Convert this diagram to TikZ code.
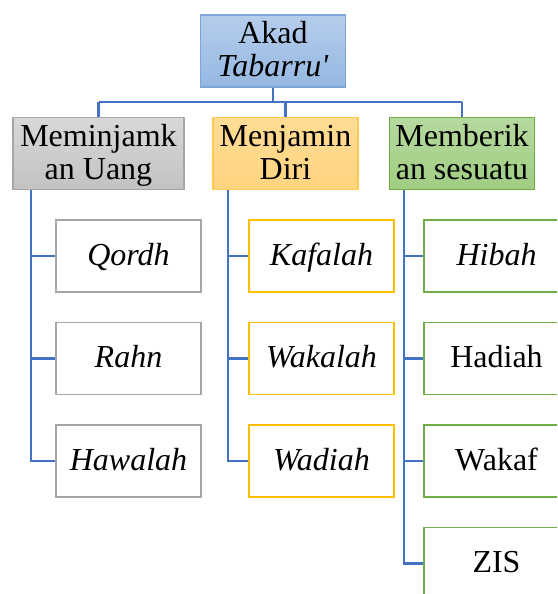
\documentclass[tikz,border=0pt]{standalone}
\usepackage{fontspec}
\setmainfont{Liberation Serif}[Ligatures=TeXOff]
\definecolor{linkblue}{HTML}{4472C4}
\definecolor{topborder}{HTML}{7DA5D8}
\definecolor{toptop}{HTML}{B5CDEC}
\definecolor{topbot}{HTML}{95B8E2}
\definecolor{grayborder}{HTML}{A6A6A6}
\definecolor{graytop}{HTML}{D8D8D8}
\definecolor{graybot}{HTML}{C2C2C2}
\definecolor{goldborder}{HTML}{FFC000}
\definecolor{goldedge}{HTML}{FFC850}
\definecolor{goldtop}{HTML}{FFDC96}
\definecolor{goldbot}{HTML}{FFD47E}
\definecolor{greenborder}{HTML}{70AD47}
\definecolor{greentop}{HTML}{B6D99F}
\definecolor{greenbot}{HTML}{A0CD82}
\tikzset{
  orgbox/.style={draw, line width=1.6pt, minimum width=145pt, minimum height=72pt,
    inner sep=0pt, align=center, font=\fontsize{32}{33}\selectfont},
  twoline/.style={orgbox, text height=56pt, text depth=4pt},
  oneline/.style={orgbox, text height=23pt, text depth=5pt},
  topbox/.style={twoline, draw=topborder, top color=toptop, bottom color=topbot},
  graybox/.style={twoline, minimum width=171pt, draw=grayborder, top color=graytop, bottom color=graybot},
  goldbox/.style={twoline, draw=goldedge, top color=goldtop, bottom color=goldbot},
  greenbox/.style={twoline, draw=greenborder, top color=greentop, bottom color=greenbot},
  leafgray/.style={oneline, draw=grayborder, fill=white},
  leafgold/.style={oneline, draw=goldborder, fill=white},
  leafgreen/.style={oneline, draw=greenborder, fill=white},
  link/.style={draw=linkblue, line width=2.2pt}
}
\begin{document}
\begin{tikzpicture}[x=1pt,y=-1pt]
\useasboundingbox (0,0) rectangle (557,594);
\clip (0,0) rectangle (557,594);
\coordinate (bus) at (0,102);
\coordinate (gs) at (31,190);
\coordinate (os) at (228,190);
\coordinate (ns) at (404,190);
\node[topbox] (top) at (273,51) {Akad\\\textit{Tabarru'}};
\node[graybox] (g) at (98.5,153.5) {Meminjamk\\an Uang};
\node[goldbox] (o) at (285.5,153.5) {Menjamin\\Diri};
\node[greenbox] (n) at (462,153.5) {Memberik\\an sesuatu};
\node[leafgray] (g1) at (128.5,256) {\textit{Qordh}};
\node[leafgray] (g2) at (128.5,358.5) {\textit{Rahn}};
\node[leafgray] (g3) at (128.5,461) {\textit{Hawalah}};
\node[leafgold] (o1) at (321.5,256) {\textit{Kafalah}};
\node[leafgold] (o2) at (321.5,358.5) {\textit{Wakalah}};
\node[leafgold] (o3) at (321.5,461) {\textit{Wadiah}};
\node[leafgreen] (n1) at (496.5,256) {\textit{Hibah}};
\node[leafgreen] (n2) at (496.5,358.5) {Hadiah};
\node[leafgreen] (n3) at (496.5,461) {Wakaf};
\node[leafgreen] (n4) at (496.5,563.5) {ZIS};
\path[link] (top.south) -- (top.south |- bus);
\path[link] (g.north |- bus) -- (n.north |- bus);
\path[link] (g.north |- bus) -- (g.north);
\path[link] (o.north |- bus) -- (o.north);
\path[link] (n.north |- bus) -- (n.north);
\path[link] (gs) |- (g3.west);
\path[link] (gs |- g1.west) -- (g1.west);
\path[link] (gs |- g2.west) -- (g2.west);
\path[link] (os) |- (o3.west);
\path[link] (os |- o1.west) -- (o1.west);
\path[link] (os |- o2.west) -- (o2.west);
\path[link] (ns) |- (n4.west);
\path[link] (ns |- n1.west) -- (n1.west);
\path[link] (ns |- n2.west) -- (n2.west);
\path[link] (ns |- n3.west) -- (n3.west);
\end{tikzpicture}
\end{document}
